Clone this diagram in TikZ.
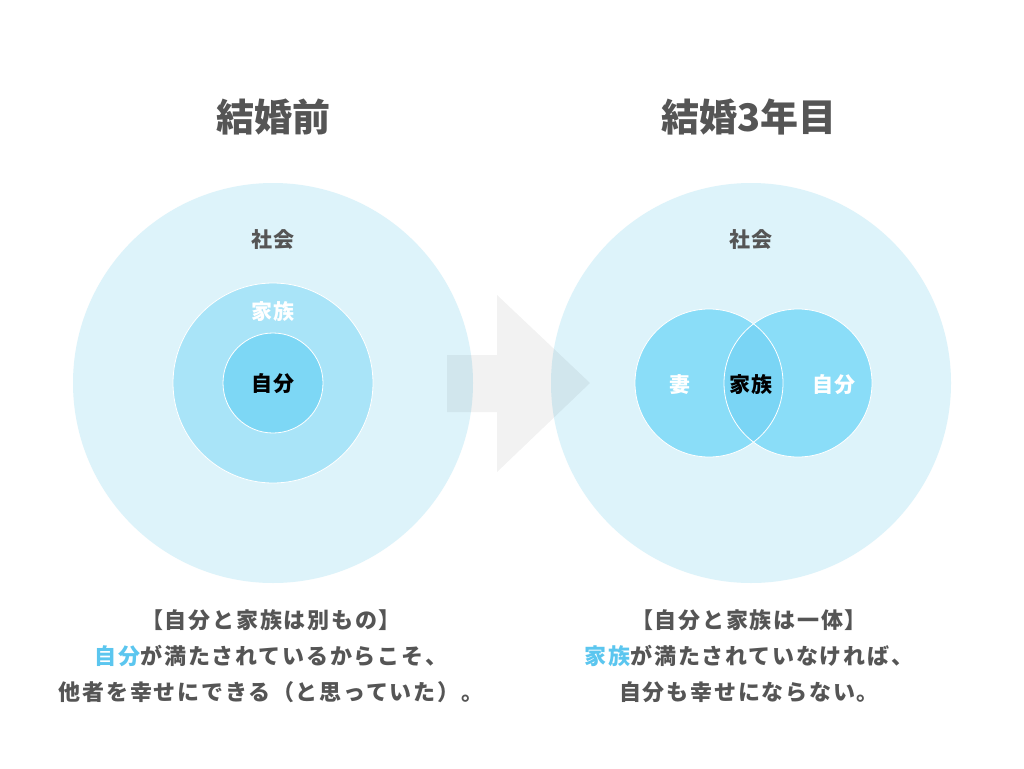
\documentclass[tikz,border=0pt]{standalone}
\usepackage{fontspec}
\newfontfamily\jp{Noto Sans CJK JP}
\newfontfamily\jpwide{Noto Sans CJK JP}[LetterSpace=8]
\usetikzlibrary{positioning}
\definecolor{outerblue}{HTML}{DDF3FA}
\definecolor{midblue}{HTML}{A9E4F8}
\definecolor{innerblue}{HTML}{7DD7F5}
\definecolor{vennblue}{HTML}{8ADDF8}
\definecolor{overblue}{HTML}{7AD5F5}
\definecolor{textgray}{HTML}{555555}
\definecolor{hiblue}{HTML}{5BC6EF}
\tikzstyle{ring} = [circle, inner sep=0pt, draw=white, line width=0.8pt]
\tikzstyle{title} = [text=textgray, font=\jp\bfseries\fontsize{38}{38}\selectfont]
\tikzstyle{lab} = [font=\jpwide\bfseries\fontsize{21}{21}\selectfont]
\tikzstyle{note} = [text=textgray, align=center, font=\jpwide\bfseries\fontsize{22}{36}\selectfont]

\begin{document}
\begin{tikzpicture}[x=1pt,y=-1pt]
\useasboundingbox[fill=white] (0,0) rectangle (1024,768);

% before marriage
\node[ring, draw=none, fill=outerblue, minimum size=400pt] (society1) at (273,383) {};
\node[ring, fill=midblue, minimum size=200pt] (family1) at (273,383) {};
\node[ring, fill=innerblue, minimum size=100pt] (self1) at (273,383) {};

% third year
\node[ring, draw=none, fill=outerblue, minimum size=400pt] (society2) at (751,383) {};
\node[ring, draw=none, fill=vennblue, minimum size=148pt] (wife) at (709,383) {};
\node[ring, draw=none, fill=vennblue, minimum size=148pt] (self2) at (798,383) {};
\begin{scope}
	\clip (wife.center) circle (74);
	\fill[overblue] (self2.center) circle (74);
\end{scope}
\draw[white, line width=0.8pt] (wife.center) circle (74);
\draw[white, line width=0.8pt] (self2.center) circle (74);

% arrow
\fill[black, opacity=0.05] (447,355) -- (497,355) -- (497,295) -- (590,383) -- (497,472) -- (497,412) -- (447,412) -- cycle;

% titles
\node[title] (title1) at (273,117) {結婚前};
\node[title] (title2) at (749,117) {結婚3年目};

% labels
\node[lab, text=textgray] (soc1) at (273,240) {社会};
\node[lab, text=white] (fam1) at (273,312) {家族};
\node[lab, text=black] (me1) at (273,384) {自分};
\node[lab, text=textgray] (soc2) at (751,240) {社会};
\node[lab, text=white] (wf) at (680,385) {妻};
\node[lab, text=black] (fam2) at (751,385) {家族};
\node[lab, text=white] (me2) at (834,385) {自分};

% notes
\node[note] (note1) at (271,656) {【自分と家族は別もの】\\{\color{hiblue}自分}が満たされているからこそ、\\他者を幸せにできる（と思っていた）。};
\node[note] (note2) at (749,656) {【自分と家族は一体】\\{\color{hiblue}家族}が満たされていなければ、\\自分も幸せにならない。};
\end{tikzpicture}
\end{document}
